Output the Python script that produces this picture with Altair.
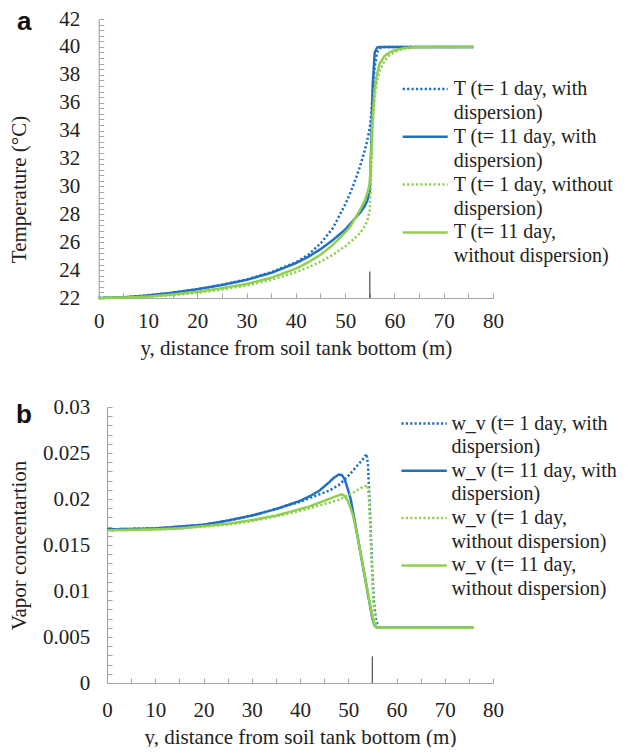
import altair as alt
import pandas as pd

FONT = "'Liberation Serif', 'Times New Roman', Times, 'DejaVu Serif', serif"
BLUE = "#1f6fc5"
GREEN = "#8fd04f"
AXIS_GRAY = "#a6a6a6"
TXT = "#222222"

# ---------------- Panel a : temperature ----------------
xa = [0, 5, 10, 15, 20, 25, 30, 35, 40, 42.5, 45, 47.5, 50, 51, 52, 53, 54, 54.5,
      55, 55.3, 55.6, 56, 56.5, 57, 58, 59, 60, 62, 65, 70, 76]
T_1_with = [22.0, 22.05, 22.18, 22.38, 22.63, 22.95, 23.33, 23.85, 24.55, 25.1, 25.9, 27.0,
            28.7, 29.5, 30.4, 31.4, 32.6, 33.3, 34.2, 35.2, 36.8, 38.6, 39.6, 39.9, 40.0,
            40.0, 40.0, 40.0, 40.0, 40.0, 40.0]
T_11_with = [22.0, 22.05, 22.18, 22.38, 22.63, 22.93, 23.3, 23.8, 24.5, 24.95, 25.5, 26.15,
             26.9, 27.3, 27.7, 28.1, 28.6, 29.0, 29.7, 33.0, 37.3, 39.6, 39.95, 40.0, 40.0,
             40.0, 40.0, 40.0, 40.0, 40.0, 40.0]
T_1_without = [22.0, 22.02, 22.08, 22.2, 22.37, 22.6, 22.9, 23.3, 23.85, 24.2, 24.6, 25.1,
               25.7, 26.0, 26.3, 26.65, 27.15, 27.55, 28.3, 31.0, 34.5, 36.5, 37.6, 38.3,
               39.0, 39.4, 39.65, 39.88, 39.97, 40.0, 40.0]
T_11_without = [22.0, 22.03, 22.1, 22.25, 22.45, 22.7, 23.0, 23.45, 24.1, 24.55, 25.1, 25.8,
                26.7, 27.1, 27.7, 28.3, 29.0, 29.5, 30.2, 32.5, 35.0, 37.0, 38.1, 38.8,
                39.35, 39.6, 39.75, 39.92, 39.99, 40.0, 40.0]

labels_a = ["T (t= 1 day, with\ndispersion)",
            "T (t= 11 day, with\ndispersion)",
            "T (t= 1 day, without\ndispersion)",
            "T (t= 11 day,\nwithout dispersion)"]

# ---------------- Panel b : vapour concentration ----------------
xb_1_with = [0, 5, 10, 15, 20, 25, 30, 35, 40, 42, 44, 46, 48, 50, 51, 52, 53, 53.8,
             54.1, 54.4, 54.7, 55.0, 55.3, 55.7, 56.2, 57, 60, 65, 70, 76]
wv_1_with = [0.0167, 0.01675, 0.0168, 0.0170, 0.0172, 0.01765, 0.0182, 0.0189, 0.0197,
             0.0201, 0.0205, 0.0209, 0.0215, 0.0225, 0.0231, 0.0237, 0.0243, 0.0249,
             0.0236, 0.0200, 0.0160, 0.0120, 0.0090, 0.0070, 0.0061, 0.006, 0.006,
             0.006, 0.006, 0.006]
xb_11_with = [0, 5, 10, 15, 20, 25, 30, 35, 40, 42, 44, 46, 47, 48, 48.7, 49.3, 50, 50.5,
              51, 52, 53, 54, 55, 55.5, 56, 60, 65, 70, 76]
wv_11_with = [0.0167, 0.01675, 0.0168, 0.0170, 0.0172, 0.01765, 0.0182, 0.0189, 0.0198,
              0.0203, 0.0209, 0.0218, 0.0223, 0.02265, 0.0226, 0.0221, 0.0209, 0.0200,
              0.0186, 0.0157, 0.0128, 0.0099, 0.0070, 0.0062, 0.006, 0.006, 0.006,
              0.006, 0.006]
xb_1_without = [0, 5, 10, 15, 20, 25, 30, 35, 40, 42, 44, 46, 48, 50, 51, 52, 53, 54,
                54.3, 54.6, 54.9, 55.2, 55.5, 55.9, 56.5, 60, 65, 70, 76]
wv_1_without = [0.0166, 0.01665, 0.0167, 0.0168, 0.0170, 0.0172, 0.0176, 0.0181, 0.0187,
                0.0190, 0.0193, 0.0196, 0.0199, 0.0204, 0.0207, 0.0210, 0.0213, 0.0215,
                0.0200, 0.0165, 0.0125, 0.0090, 0.0070, 0.0061, 0.006, 0.006, 0.006,
                0.006, 0.006]
xb_11_without = [0, 5, 10, 15, 20, 25, 30, 35, 40, 42, 44, 46, 47, 48, 48.7, 49.3, 50,
                 50.5, 51, 52, 53, 54, 55, 55.6, 56.1, 60, 65, 70, 76]
wv_11_without = [0.0166, 0.01665, 0.0167, 0.0168, 0.01705, 0.0173, 0.0177, 0.0182, 0.0189,
                 0.0192, 0.0196, 0.0200, 0.0202, 0.0204, 0.0205, 0.0203, 0.0197, 0.0190,
                 0.0182, 0.0157, 0.0129, 0.0100, 0.0072, 0.0061, 0.006, 0.006, 0.006,
                 0.006, 0.006]

labels_b = ["w_v (t= 1 day, with\ndispersion)",
            "w_v (t= 11 day, with\ndispersion)",
            "w_v (t= 1 day,\nwithout dispersion)",
            "w_v (t= 11 day,\nwithout dispersion)"]

series_colors = [BLUE, BLUE, GREEN, GREEN]
series_dashes = [[2.2, 2.2], [1, 0], [2.2, 2.2], [1, 0]]

# axis ticks
x_ticks = [0, 5, 10, 15, 20, 25, 30, 35, 40, 45, 50, 55, 60, 65, 70, 75, 80]
ya_major = [22, 24, 26, 28, 30, 32, 34, 36, 38, 40, 42]
yb_major = [0, 0.005, 0.01, 0.015, 0.02, 0.025, 0.03]
ya_ticks = sorted({round(m + 0.4 * k, 1) for m in ya_major[:-1] for k in range(5)} | {42})
yb_ticks = sorted({round(m + 0.001 * k, 3) for m in yb_major[:-1] for k in range(5)} | {0.03})

# marker at the tank surface
marker_x = [55]
marker_a = [22, 23.9]
marker_b = [0, 0.0029]


def build_df(xs_list, ys_list, labels):
    rows = []
    for lab, xs, ys in zip(labels, xs_list, ys_list):
        for i, (x, y) in enumerate(zip(xs, ys)):
            rows.append({"series": lab, "x": x, "v": y, "i": i})
    return pd.DataFrame(rows)


df_a = build_df([xa, xa, xa, xa], [T_1_with, T_11_with, T_1_without, T_11_without], labels_a)
df_b = build_df([xb_1_with, xb_11_with, xb_1_without, xb_11_without],
                [wv_1_with, wv_11_with, wv_1_without, wv_11_without], labels_b)

ONE = pd.DataFrame({"k": [0]})


def legend_layers(labels, sx0, sx1, tx, y0, step, lh):
    out = []
    for k, lab in enumerate(labels):
        yk = y0 + k * step
        out.append(alt.Chart(ONE).mark_rule(
            color=series_colors[k], strokeDash=series_dashes[k], strokeWidth=2.5,
            strokeCap="butt").encode(x=alt.value(sx0), x2=alt.value(sx1), y=alt.value(yk)))
        out.append(alt.Chart(ONE).mark_text(
            text=lab.split("\n"), align="left", baseline="middle", lineHeight=lh,
            font=FONT, fontSize=20, color=TXT).encode(x=alt.value(tx), y=alt.value(yk)))
    return out


def panel(df, labels, xdom, xrange, yoff, ydom, yticks, ylabel_expr, ytitle, w, h,
          leg, ytitle_x, ytitle_y, xlab_pad, xtitle_y, ylab_pad,
          marker_vals, tag, tag_x, tag_y):
    xscale = alt.Scale(domain=xdom, range=xrange, nice=False, zero=False)
    yscale = alt.Scale(domain=ydom, nice=False, zero=False)
    xaxis = alt.Axis(values=x_ticks,
                     labelExpr="datum.value % 10 == 0 ? format(datum.value, '~g') : ''",
                     title="y, distance from soil tank bottom (m)",
                     grid=True, gridDash=[0, h - 5, 5, 3000], gridColor=AXIS_GRAY,
                     gridWidth=1, ticks=False, domainColor=AXIS_GRAY, domainWidth=1.2,
                     labelFont=FONT, labelFontSize=21, labelColor=TXT,
                     labelBaseline="middle", labelPadding=xlab_pad, labelFlush=False,
                     titleFont=FONT, titleFontSize=21, titleFontWeight="normal",
                     titleColor=TXT, titleBaseline="alphabetic", titleY=xtitle_y)
    yaxis = alt.Axis(values=yticks, labelExpr=ylabel_expr, title=ytitle, offset=yoff,
                     grid=True, gridDash=[5, 3000], gridColor=AXIS_GRAY,
                     gridWidth=1, ticks=False, domainColor=AXIS_GRAY, domainWidth=1.2,
                     labelFont=FONT, labelFontSize=21, labelColor=TXT,
                     labelPadding=ylab_pad, labelFlush=False,
                     titleFont=FONT, titleFontSize=21, titleFontWeight="normal",
                     titleColor=TXT, titleBaseline="middle",
                     titleX=ytitle_x, titleY=ytitle_y, titleAngle=-90)
    lines = alt.Chart(df).mark_line(strokeWidth=2.5, strokeCap="butt").encode(
        x=alt.X("x:Q", scale=xscale, axis=xaxis),
        y=alt.Y("v:Q", scale=yscale, axis=yaxis),
        color=alt.Color("series:N", scale=alt.Scale(domain=labels, range=series_colors),
                        legend=None),
        strokeDash=alt.StrokeDash("series:N",
                                  scale=alt.Scale(domain=labels, range=series_dashes),
                                  legend=None),
        order="i:Q",
    )
    mk = alt.Chart(pd.DataFrame({"x": marker_x, "v": [marker_vals[0]],
                                 "v2": [marker_vals[1]]})).mark_rule(
        color="#595959", strokeWidth=1.3).encode(
        x=alt.X("x:Q", scale=xscale, axis=xaxis),
        y=alt.Y("v:Q", scale=yscale, axis=yaxis),
        y2="v2:Q",
    )
    tg = alt.Chart(ONE).mark_text(
        text=tag, font="Liberation Sans", fontSize=26, fontWeight="bold", color="#111111",
        align="left", baseline="alphabetic").encode(x=alt.value(tag_x), y=alt.value(tag_y))
    layers = [mk, lines, tg] + legend_layers(labels, *leg)
    return alt.layer(*layers).properties(width=w, height=h)


ya_expr = "abs(datum.value/2 - round(datum.value/2)) < 0.001 ? format(datum.value, '~g') : ''"
yb_expr = "abs(datum.value/0.005 - round(datum.value/0.005)) < 0.001 ? format(datum.value, '~g') : ''"

# panel a's plot origin is aligned with panel b's; its x range starts 8.3 px further left
chart_a = panel(df_a, labels_a, [0, 80], [-8.3, 386], 8.3, [22, 42], ya_ticks, ya_expr,
                "Temperature (°C)", 386, 279, (295.7, 340.7, 346.7, 70, 47.8, 24),
                -79, 170, 23, 56, 19, marker_a, "a", -90, 11)
chart_b = panel(df_b, labels_b, [0, 80], [0, 386], 0, [0, 0.03], yb_ticks, yb_expr,
                "Vapor concentartion", 386, 276, (294.4, 339.8, 344.4, 16.5, 47.3, 23.7),
                -87.3, 138, 27, 60, 17.3, marker_b, "b", -91, 16.4)

chart = alt.concat(chart_a, chart_b, columns=1, spacing=38).resolve_scale(
    color="independent", strokeDash="independent", x="independent", y="independent"
).properties(
    padding={"left": 0, "top": 0, "right": 0, "bottom": 0}
).configure(
    background="white", font=FONT
).configure_view(stroke=None)

chart.save("out.html", embed_options={"renderer": "svg", "actions": False})
